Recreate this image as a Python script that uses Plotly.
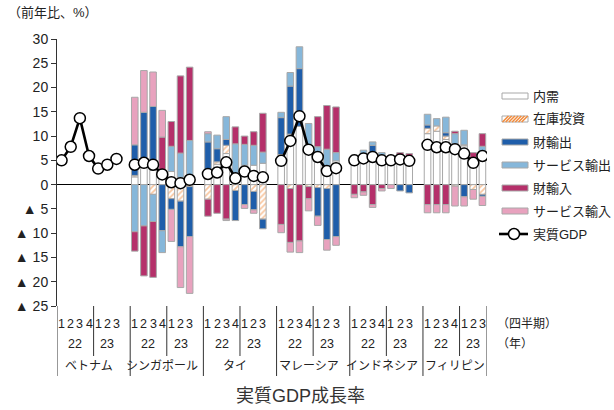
import plotly.graph_objects as go

# ---- categories ----
countries = ["ベトナム", "シンガポール", "タイ", "マレーシア", "インドネシア", "フィリピン"]
quarter_labels = ["1", "2", "3", "4", "1", "2", "3"]
year_labels = ["22", "23"]

# ---- contributions to real GDP growth (pt), 2022Q1 .. 2023Q3 per country ----
domestic = [
    None, None, None, None, None, None, None,     # ベトナム
    1.6, 3.8, 3.0, 2.5, 2.7, 1.5, 0.8,            # シンガポール
    3.1, 4.2, 6.4, 2.1, 4.0, 4.0, 4.4,            # タイ
    5.8, 10.4, 12.0, 7.5, 6.6, 3.8, 4.9,          # マレーシア
    5.8, 5.6, 6.2, 5.3, 6.0, 6.0, 5.8,            # インドネシア
    10.5, 11.0, 9.3, 7.9, 8.0, 5.4, 6.9,          # フィリピン
]
inventory = [
    None, None, None, None, None, None, None,
    0.3, None, -2.0, None, -2.9, -3.4, -0.4,
    -3.0, 0.5, 1.7, -1.2, None, -1.4, -7.1,
    0.4, -0.8, None, -0.4, -0.6, -0.8, None,
    None, None, None, None, None, None, None,
    1.1, 1.1, 0.7, -0.3, 0.2, -1.0, -2.0,
]
goods_exports = [
    None, None, None, None, None, None, None,
    6.3, 11.1, 13.1, -9.5, -2.2, -9.4, -10.3,
    5.7, 2.7, 1.2, -6.2, -4.1, -3.8, -2.0,
    7.6, 9.9, 11.9, None, -5.9, -10.5, -10.7,
    None, 0.8, 1.9, 0.7, None, -1.3, -1.7,
    0.7, None, 0.7, 0.5, -2.5, None, -0.4,
]
service_exports = [
    None, None, None, None, None, None, None,
    -9.7, -8.5, -5.6, -4.5, 5.2, 5.0, 8.3,
    1.7, 2.8, 4.7, 6.3, 4.3, 4.1, 2.3,
    1.1, 2.8, 4.5, 5.1, 1.2, 3.5, 1.7,
    0.3, 0.7, 0.7, 0.6, None, None, None,
    2.2, 1.5, 3.2, 2.1, 3.0, None, 1.0,
]
goods_imports = [
    None, None, None, None, None, None, None,
    -4.0, -10.3, -11.5, 7.3, 5.1, 15.9, 15.1,
    -3.5, -5.9, -7.1, 3.5, 1.7, 2.8, 8.0,
    -8.2, -11.1, -11.6, -2.5, 6.2, 9.0, 9.4,
    -2.0, -1.5, -4.1, -0.8, None, 0.6, 0.6,
    -4.1, -4.1, -4.1, 0.5, None, 1.2, 2.6,
]
service_imports = [
    None, None, None, None, None, None, None,
    9.8, 8.6, 7.1, 5.5, -6.6, -8.4, -11.7,
    0.4, None, -0.3, None, -0.8, -0.7, None,
    -1.7, -2.0, -2.4, -2.5, -1.9, -2.2, -1.8,
    -0.7, -0.7, -0.6, -0.5, -0.8, None, None,
    -1.7, -1.7, -1.7, -4.1, -1.9, -2.0, -1.9,
]
real_gdp = [
    5.0, 7.8, 13.7, 5.9, 3.3, 4.1, 5.3,
    4.1, 4.5, 4.1, 2.1, 0.5, 0.3, 1.0,
    2.2, 2.5, 4.6, 1.3, 2.7, 1.8, 1.5,
    4.9, 9.0, 14.1, 7.2, 5.7, 2.8, 3.4,
    5.0, 5.4, 5.7, 5.0, 5.0, 5.2, 4.9,
    8.2, 7.7, 7.7, 7.3, 6.4, 4.5, 5.9,
]

# ---- layout geometry ----
W, H = 614, 410
ML, MR, MT, MB = 57, 127, 39, 104
PW, PH = W - ML - MR, H - MT - MB
NQ = len(quarter_labels)
SLOT = NQ + 1                      # one empty slot between countries
X_MIN, X_MAX = -0.5, len(countries) * SLOT - 1.5

FONT = "Liberation Sans, Noto Sans CJK JP, sans-serif"
TXT = "#222222"
EDGE = "#a8a8a8"


def px_x(px):
    return (px - ML) / PW


def px_y(py):
    return (H - MB - py) / PH


def label(x, y, text, size, xref="paper", xanchor="center", color=TXT):
    return dict(x=x, y=y, xref=xref, yref="paper", text=text, showarrow=False,
                xanchor=xanchor, yanchor="middle", font=dict(size=size, color=color))


xpos = [c * SLOT + q for c in range(len(countries)) for q in range(NQ)]

fig = go.Figure()

series = [
    ("内需", domestic, dict(color="white")),
    ("在庫投資", inventory, dict(color="white",
                              pattern=dict(shape="/", fgcolor="#f28d3f", bgcolor="white",
                                           size=4, solidity=0.45))),
    ("財輸出", goods_exports, dict(color="#1f5eaa")),
    ("サービス輸出", service_exports, dict(color="#86b7da")),
    ("財輸入", goods_imports, dict(color="#b5306a")),
    ("サービス輸入", service_imports, dict(color="#e8a2be")),
]
for name, vals, marker in series:
    marker = dict(marker, line=dict(color=EDGE, width=1))
    fig.add_trace(go.Bar(x=xpos, y=vals, name=name, marker=marker, width=0.72,
                         showlegend=False))

# real GDP line, broken between countries
gx, gy = [], []
for c in range(len(countries)):
    for q in range(NQ):
        gx.append(c * SLOT + q)
        gy.append(real_gdp[c * NQ + q])
    gx.append(None)
    gy.append(None)
fig.add_trace(go.Scatter(
    x=gx, y=gy, mode="lines+markers", name="実質GDP", connectgaps=False,
    line=dict(color="black", width=2.6),
    marker=dict(size=11, color="white", line=dict(color="black", width=1.5)),
    showlegend=False,
))

yt = list(range(-25, 31, 5))
ytxt = [("▲ %d" % -v) if v < 0 else str(v) for v in yt]

fig.update_layout(
    width=W, height=H,
    margin=dict(l=ML, r=MR, t=MT, b=MB, pad=0),
    barmode="relative",
    paper_bgcolor="white", plot_bgcolor="white",
    font=dict(family=FONT, color=TXT),
    xaxis=dict(range=[X_MIN, X_MAX], showticklabels=False, showgrid=False,
               zeroline=False, showline=False, ticks=""),
    yaxis=dict(range=[-25, 30], tickvals=yt, ticktext=ytxt, showgrid=False,
               zeroline=True, zerolinecolor="black", zerolinewidth=1.3,
               showline=True, linecolor="#333333", linewidth=1,
               ticks="outside", ticklen=5, tickcolor="#333333",
               tickfont=dict(size=14, color=TXT)),
)

shapes = []
annotations = []

# axis extension and separators under the plot
shapes.append(dict(type="line", xref="x", yref="paper", x0=X_MIN, x1=X_MIN,
                   y0=0, y1=px_y(376), line=dict(color="#333333", width=1)))
for c in range(1, len(countries) + 1):
    xs = c * SLOT - 1.5 if c == len(countries) else c * SLOT - 0.5
    shapes.append(dict(type="line", xref="x", yref="paper", x0=xs, x1=xs,
                       y0=0, y1=px_y(376), line=dict(color="#333333", width=1)))
for c in range(len(countries)):
    xs = c * SLOT + 3.5
    shapes.append(dict(type="line", xref="x", yref="paper", x0=xs, x1=xs,
                       y0=0, y1=px_y(356), line=dict(color="#333333", width=1)))

# category labels
for c, cname in enumerate(countries):
    for q, ql in enumerate(quarter_labels):
        annotations.append(label(c * SLOT + q, px_y(324), ql, 12.5, xref="x"))
    annotations.append(label(c * SLOT + 1.5, px_y(344), year_labels[0], 12.5, xref="x"))
    annotations.append(label(c * SLOT + 5, px_y(344), year_labels[1], 12.5, xref="x"))
    annotations.append(label(c * SLOT + 3, px_y(366), cname, 12, xref="x"))

annotations.append(label(px_x(495), px_y(324), "（四半期）", 12, xanchor="left"))
annotations.append(label(px_x(495), px_y(344), "（年）", 12, xanchor="left"))
annotations.append(label(px_x(6), px_y(13), "（前年比、%）", 13, xanchor="left"))
annotations.append(label(px_x(300), px_y(396), "実質GDP成長率", 18, color="#333333"))

# legend
LX0, LX1, LH = 502, 528, 6
legend_rows = [96, 119, 142, 165, 188, 211, 234]
for i, (name, vals, marker) in enumerate(series):
    cy = legend_rows[i]
    y0, y1 = px_y(cy + LH / 2), px_y(cy - LH / 2)
    shapes.append(dict(type="rect", xref="paper", yref="paper",
                       x0=px_x(LX0), x1=px_x(LX1), y0=y0, y1=y1,
                       fillcolor=marker["color"], line=dict(color=EDGE, width=1)))
    if "pattern" in marker:
        hx = LX0 + 0.5
        while hx + LH <= LX1:
            shapes.append(dict(type="line", xref="paper", yref="paper",
                               x0=px_x(hx), x1=px_x(hx + LH), y0=y0, y1=y1,
                               line=dict(color=marker["pattern"]["fgcolor"], width=1.6)))
            hx += 3.2
    annotations.append(label(px_x(531), px_y(cy), name, 13, xanchor="left"))

cy = legend_rows[-1]
shapes.append(dict(type="line", xref="paper", yref="paper", x0=px_x(499), x1=px_x(528),
                   y0=px_y(cy), y1=px_y(cy), line=dict(color="black", width=2.6)))
shapes.append(dict(type="circle", xref="paper", yref="paper",
                   x0=px_x(508.5), x1=px_x(519.5), y0=px_y(cy + 5.5), y1=px_y(cy - 5.5),
                   fillcolor="white", line=dict(color="black", width=1.5)))
annotations.append(label(px_x(531), px_y(cy), "実質GDP", 13, xanchor="left"))

fig.update_layout(shapes=shapes, annotations=annotations)
fig.write_html("out.html")
